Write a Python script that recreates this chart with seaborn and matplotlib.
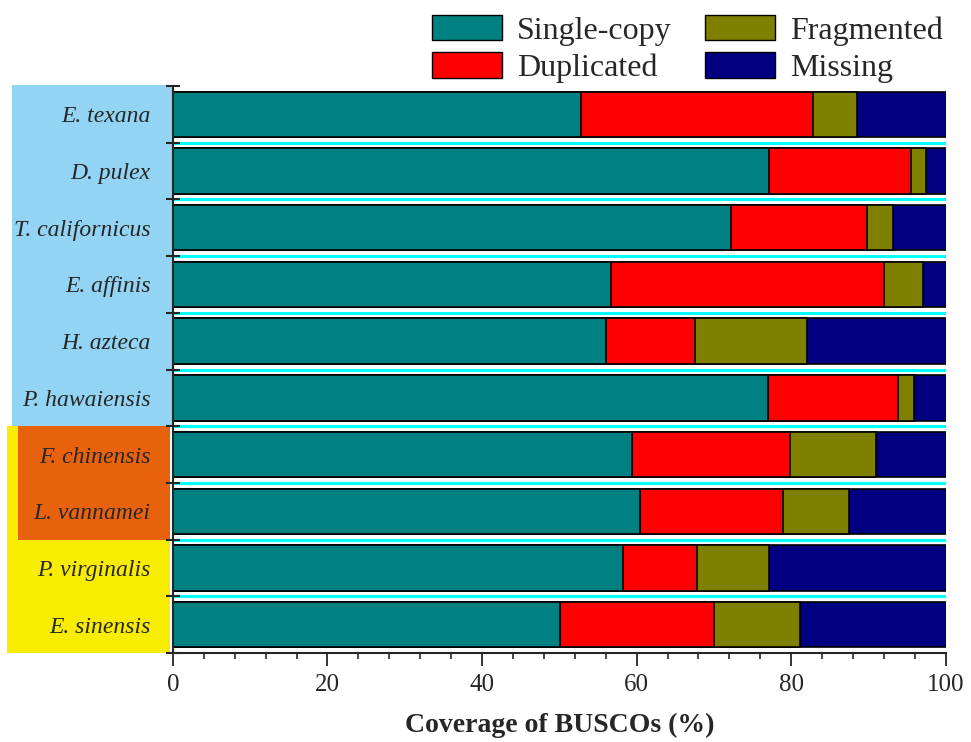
import numpy as np
import pandas as pd
import matplotlib.pyplot as plt
import matplotlib.transforms as mtransforms
from matplotlib.patches import Patch, Rectangle
import seaborn as sns

# setup
sns.set_theme(style='ticks')
plt.rcParams['font.family'] = ['Liberation Serif', 'DejaVu Serif']

# data (percent of BUSCOs)
species = ['E. texana', 'D. pulex', 'T. californicus', 'E. affinis', 'H. azteca',
           'P. hawaiensis', 'F. chinensis', 'L. vannamei', 'P. virginalis', 'E. sinensis']
single = [52.8, 77.1, 72.2, 56.7, 56.1, 77.0, 59.4, 60.4, 58.3, 50.1]
duplicated = [30.0, 18.4, 17.6, 35.3, 11.5, 16.8, 20.5, 18.5, 9.5, 19.9]
fragmented = [5.7, 2.0, 3.4, 5.1, 14.4, 2.1, 11.1, 8.6, 9.3, 11.2]
missing = [11.5, 2.5, 6.8, 2.9, 18.0, 4.1, 9.0, 12.5, 22.9, 18.8]

categories = ['Single-copy', 'Duplicated', 'Fragmented', 'Missing']
colors = {'Single-copy': '#008080', 'Duplicated': '#ff0000',
          'Fragmented': '#808000', 'Missing': '#000080'}

df = pd.DataFrame({'Species': species, 'Single-copy': single, 'Duplicated': duplicated,
                   'Fragmented': fragmented, 'Missing': missing})
cum = df[categories].cumsum(axis=1)
cum['Species'] = df['Species']

fig = plt.figure(figsize=(9.71, 7.42), dpi=100)
ax = fig.add_axes([0.178, 0.120, 0.796, 0.764])

# stacked bars: draw cumulative totals from the back to the front
for cat in reversed(categories):
    sns.barplot(data=cum, x=cat, y='Species', orient='h', color=colors[cat],
                saturation=1, edgecolor='black', linewidth=1.2, width=0.8, ax=ax)

# cyan separators between rows
for i in range(len(species) - 1):
    ax.axhline(i + 0.5, color='#00ffff', lw=2.2, zorder=0)

ax.set_xlim(0, 100)
ax.set_ylim(len(species) - 0.5, -0.5)
ax.set_xticks(np.arange(0, 101, 20))
ax.set_xticks(np.arange(0, 101, 4), minor=True)
ax.tick_params(axis='x', which='major', direction='out', length=9, width=1.3,
               labelsize=18, pad=6)
ax.tick_params(axis='x', which='minor', direction='out', length=4.5, width=1.2)

ax.set_yticks(np.arange(-0.5, len(species), 1))
ax.set_yticklabels([])
ax.set_yticks(np.arange(len(species)), minor=True)
ax.set_yticklabels(species, minor=True, fontstyle='italic', fontsize=17)
ax.tick_params(axis='y', which='major', direction='inout', length=10, width=1.5)
ax.tick_params(axis='y', which='minor', length=0, pad=16)

sns.despine(ax=ax, top=True, right=True)
ax.spines['left'].set_linewidth(1.5)
ax.spines['bottom'].set_linewidth(1.5)
ax.set_ylabel('')
ax.set_xlabel('Coverage of BUSCOs (%)', fontsize=20, fontweight='bold', labelpad=12)

# coloured boxes behind the species names
trans = mtransforms.blended_transform_factory(ax.transAxes, ax.transData)
boxes = [(-0.208, 0.0, -0.52, 5.5, '#93d4f4'),
         (-0.215, -0.004, 5.5, 9.5, '#f8ec00'),
         (-0.2005, -0.004, 5.5, 7.5, '#e8620e')]
for x0, x1, y0, y1, c in boxes:
    ax.add_patch(Rectangle((x0, y0), x1 - x0, y1 - y0, transform=trans,
                           facecolor=c, edgecolor='none', clip_on=False, zorder=-5))

handles = [Patch(facecolor=colors[c], edgecolor='black', linewidth=1) for c in categories]
ax.legend(handles, categories, ncol=2, loc='lower right', bbox_to_anchor=(1.0, 1.0),
          frameon=False, fontsize=23, borderaxespad=0, borderpad=0.1,
          handlelength=2.2, handleheight=0.85, handletextpad=0.45,
          columnspacing=1.05, labelspacing=0.2)

fig.savefig('out.png', dpi=100)
